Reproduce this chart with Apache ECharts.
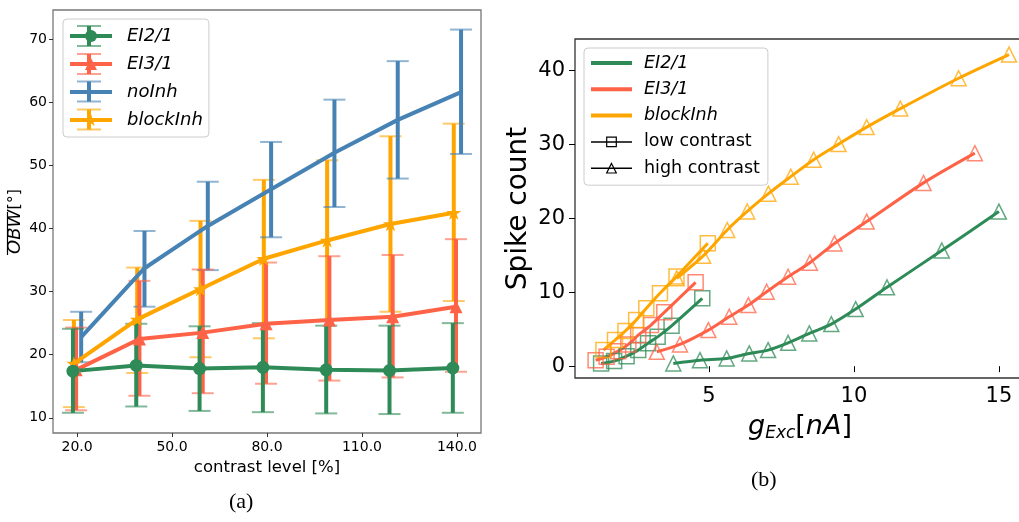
<!DOCTYPE html>
<html>
<head>
<meta charset="utf-8">
<script src="https://cdn.jsdelivr.net/npm/echarts@6/dist/echarts.min.js"></script>
<style>
  html, body { margin: 0; padding: 0; background: #fff; }
  #chart { width: 1019px; height: 522px; }
</style>
</head>
<body>
<div id="chart"></div>
<script>
// ---- panel (a): OBW vs contrast level ----
const contrastTicks = [20, 50, 80, 110, 140]
// x positions as drawn (each series is nudged a little sideways)
const ei2X = [18.7, 38.7, 58.7, 78.7, 98.7, 118.7, 138.7]
const ei3X = [19.7, 39.7, 59.7, 79.7, 99.7, 119.7, 139.7]
const noInhX = [21.3, 41.3, 61.3, 81.3, 101.3, 121.3, 141.3]
const blockX = [19.0, 39.0, 59.0, 79.0, 99.0, 119.0, 139.0]

const ei2Mean = [17.4, 18.3, 17.8, 18.0, 17.6, 17.5, 17.9]
const ei2Lo = [10.8, 11.8, 11.1, 10.9, 10.7, 10.6, 10.8]
const ei2Hi = [24.1, 24.9, 24.5, 25.0, 24.6, 24.6, 25.0]

const ei3Mean = [17.6, 22.5, 23.5, 24.9, 25.5, 26.0, 27.6]
const ei3Lo = [11.2, 13.5, 13.9, 15.4, 15.9, 16.4, 17.3]
const ei3Hi = [24.3, 31.7, 33.5, 34.6, 35.6, 35.8, 38.3]

const noInhMean = [22.8, 33.7, 40.4, 46.2, 52.0, 57.2, 61.6]
const noInhLo = [18.8, 27.6, 33.4, 38.6, 43.4, 47.9, 51.8]
const noInhHi = [26.8, 39.6, 47.4, 53.7, 60.4, 66.5, 71.5]

const blockMean = [18.6, 25.6, 30.4, 35.2, 38.1, 40.7, 42.5]
const blockLo = [11.7, 17.1, 19.6, 22.6, 25.5, 26.8, 28.5]
const blockHi = [25.5, 33.8, 41.2, 47.7, 50.8, 54.6, 56.6]

const obwTicks = [10, 20, 30, 40, 50, 60, 70]

// ---- panel (b): spike count vs g_Exc ----
const ei2LowX = [1.28, 1.73, 2.16, 2.56, 2.90, 3.23, 3.71, 4.77]
const ei2LowY = [0.37, 0.68, 1.35, 2.17, 3.11, 3.96, 5.45, 9.16]
const ei3LowX = [1.09, 1.47, 1.87, 2.22, 2.56, 3.00, 3.46, 4.54]
const ei3LowY = [0.81, 1.26, 2.03, 2.94, 4.19, 5.55, 7.27, 11.33]
const blockLowX = [1.36, 1.76, 2.12, 2.49, 2.84, 3.31, 3.88, 4.96]
const blockLowY = [2.17, 3.52, 4.76, 6.22, 7.81, 9.84, 12.1, 16.6]

const ei2HighX = [3.77, 4.69, 5.61, 6.39, 7.04, 7.73, 8.46, 9.22, 10.06, 11.14, 13.03, 15.0]
const ei2HighY = [0.37, 0.81, 1.04, 1.72, 2.17, 3.15, 4.42, 5.68, 7.71, 10.65, 15.63, 20.88]
const ei3HighX = [3.20, 4.00, 4.98, 5.70, 6.36, 6.99, 7.73, 8.48, 9.33, 10.44, 12.40, 14.17]
const ei3HighY = [1.94, 2.94, 4.87, 6.67, 8.25, 10.05, 12.08, 13.98, 16.58, 19.53, 24.76, 28.78]
const blockHighX = [3.89, 4.80, 5.63, 6.32, 7.05, 7.82, 8.61, 9.47, 10.44, 11.60, 13.61, 15.35]
const blockHighY = [11.87, 14.9, 18.4, 20.9, 23.3, 25.6, 27.9, 30.0, 32.3, 34.8, 38.9, 42.1]

const gExcTicks = [5, 10, 15]
const spikeTicks = [0, 10, 20, 30, 40]

const green = '#2e8b57'
const red = '#ff6347'
const blue = '#4682b4'
const orange = '#ffa500'
const font = 'DejaVu Sans'
const star = 'path://M0,-1L0.2245,-0.309L0.951,-0.309L0.363,0.118L0.588,0.809L0,0.382L-0.588,0.809L-0.363,0.118L-0.951,-0.309L-0.2245,-0.309Z'

const pairs = (xs, ys) => xs.map((x, i) => [x, ys[i]])
const triples = (xs, lo, hi) => xs.map((x, i) => [x, lo[i], hi[i]])

// vertical error bar with caps
function errBar (color) {
  return function (params, api) {
    const x = api.value(0)
    const p1 = api.coord([x, api.value(1)])
    const p2 = api.coord([x, api.value(2)])
    const hw = 11
    return {
      type: 'group',
      children: [
        { type: 'line', shape: { x1: p1[0], y1: p1[1], x2: p2[0], y2: p2[1] }, style: { stroke: color, lineWidth: 4 } },
        { type: 'line', shape: { x1: p1[0] - hw, y1: p1[1], x2: p1[0] + hw, y2: p1[1] }, style: { stroke: color, lineWidth: 2, opacity: 0.6 } },
        { type: 'line', shape: { x1: p2[0] - hw, y1: p2[1], x2: p2[0] + hw, y2: p2[1] }, style: { stroke: color, lineWidth: 2, opacity: 0.6 } }
      ]
    }
  }
}

function errSeries (name, data, color) {
  return {
    name,
    type: 'custom',
    xAxisIndex: 0,
    yAxisIndex: 0,
    data,
    encode: { x: 0, y: [1, 2] },
    renderItem: errBar(color),
    silent: true,
    z: 2
  }
}

function meanSeries (name, data, color, symbol, size) {
  return {
    name,
    type: 'line',
    xAxisIndex: 0,
    yAxisIndex: 0,
    data,
    symbol,
    symbolSize: size,
    symbolKeepAspect: true,
    lineStyle: { color, width: 4 },
    itemStyle: { color: symbol === 'none' ? 'transparent' : color },
    emphasis: { disabled: true },
    z: 4
  }
}

function curve (name, data, color, symbol) {
  return {
    name,
    type: 'line',
    xAxisIndex: 1,
    yAxisIndex: 1,
    data,
    smooth: 0.3,
    symbol,
    symbolSize: 15,
    lineStyle: { color, width: 3 },
    itemStyle: { color: 'transparent', borderColor: color, borderWidth: 1.5, opacity: 0.75 },
    emphasis: { disabled: true },
    z: 3
  }
}

// legend-only entries for panel (b)
function keySeries (name, color, symbol) {
  return {
    name,
    type: 'line',
    xAxisIndex: 1,
    yAxisIndex: 1,
    data: [],
    symbol,
    lineStyle: { color, width: symbol === 'none' ? 4 : 1.5 },
    itemStyle: { color: 'transparent', borderColor: symbol === 'none' ? 'transparent' : color, borderWidth: 1.2 }
  }
}

// error-bar glyphs drawn over the panel (a) legend handles
function legendBar (cx, cy, color) {
  return [
    { type: 'line', z: 10, shape: { x1: cx, y1: cy - 10, x2: cx, y2: cy + 10 }, style: { stroke: color, lineWidth: 4 } },
    { type: 'line', z: 10, shape: { x1: cx - 12, y1: cy - 10, x2: cx + 12, y2: cy - 10 }, style: { stroke: color, lineWidth: 2, opacity: 0.6 } },
    { type: 'line', z: 10, shape: { x1: cx - 12, y1: cy + 10, x2: cx + 12, y2: cy + 10 }, style: { stroke: color, lineWidth: 2, opacity: 0.6 } }
  ]
}

const rightNames = { bEI2: 'EI2/1', bEI3: 'EI3/1', bBlock: 'blockInh', bLow: 'low contrast', bHigh: 'high contrast' }

const axisText = { color: '#000', fontFamily: font }

const chart = echarts.init(document.getElementById('chart'))
chart.setOption({
  animation: false,
  backgroundColor: '#fff',
  grid: [
    { left: 53, top: 10, width: 428, height: 423, outerBoundsMode: 'none', containLabel: false, show: true, borderColor: '#777', borderWidth: 1.3, backgroundColor: 'transparent' },
    { left: 575, top: 39, width: 450, height: 339, outerBoundsMode: 'none', containLabel: false, show: true, borderColor: '#333', borderWidth: 1.3, backgroundColor: 'transparent' }
  ],
  xAxis: [
    {
      type: 'value',
      gridIndex: 0,
      min: 12.4,
      max: 147.6,
      name: 'contrast level [%]',
      nameLocation: 'middle',
      nameGap: 21,
      nameTextStyle: { ...axisText, fontSize: 16.5 },
      axisLine: { show: false },
      splitLine: { show: false },
      axisTick: { show: true, length: 4, customValues: contrastTicks, lineStyle: { color: '#333' } },
      axisLabel: { ...axisText, fontSize: 14, margin: 7, customValues: contrastTicks, formatter: v => v.toFixed(1) }
    },
    {
      type: 'value',
      gridIndex: 1,
      min: 0.38,
      max: 15.9,
      name: '{i|g}{s|Exc}{r|[}{i|nA}{r|]}',
      nameLocation: 'middle',
      nameGap: 33,
      nameTextStyle: {
        ...axisText,
        fontSize: 27,
        rich: {
          i: { fontSize: 27, fontStyle: 'italic', fontFamily: font, color: '#000' },
          r: { fontSize: 27, fontFamily: font, color: '#000' },
          s: { fontSize: 17, fontStyle: 'italic', fontFamily: font, color: '#000', padding: [14, 0, 0, 0] }
        }
      },
      axisLine: { show: false },
      splitLine: { show: false },
      axisTick: { show: true, length: 6, customValues: gExcTicks, lineStyle: { color: '#000' } },
      axisLabel: { ...axisText, fontSize: 21, margin: 8, customValues: gExcTicks }
    }
  ],
  yAxis: [
    {
      type: 'value',
      gridIndex: 0,
      min: 7.6,
      max: 74.6,
      name: '{i|OBW}[°]',
      nameLocation: 'middle',
      nameGap: 29,
      nameRotate: 90,
      nameTextStyle: {
        ...axisText,
        fontSize: 16,
        rich: { i: { fontSize: 18, fontStyle: 'italic', fontFamily: font, color: '#000' } }
      },
      axisLine: { show: false },
      splitLine: { show: false },
      axisTick: { show: true, length: 4, customValues: obwTicks, lineStyle: { color: '#333' } },
      axisLabel: { ...axisText, fontSize: 14, margin: 6, customValues: obwTicks }
    },
    {
      type: 'value',
      gridIndex: 1,
      min: -1.6,
      max: 44.2,
      name: 'Spike count',
      nameLocation: 'middle',
      nameGap: 42,
      nameRotate: 90,
      nameTextStyle: { ...axisText, fontSize: 28 },
      axisLine: { show: false },
      splitLine: { show: false },
      axisTick: { show: true, length: 6, customValues: spikeTicks, lineStyle: { color: '#000' } },
      axisLabel: { ...axisText, fontSize: 21, margin: 10, customValues: spikeTicks }
    }
  ],
  legend: [
    {
      left: 63,
      top: 19,
      orient: 'vertical',
      selectedMode: false,
      padding: [7, 6, 7, 5],
      itemGap: 8,
      itemWidth: 42,
      itemHeight: 15,
      backgroundColor: 'rgba(255,255,255,0.85)',
      borderColor: '#ccc',
      borderWidth: 1,
      borderRadius: 4,
      lineStyle: { width: 4 },
      textStyle: { fontFamily: font, fontSize: 18, fontStyle: 'italic', color: '#000', lineHeight: 20, padding: [0, 0, 0, 10] },
      data: ['EI2/1', 'EI3/1', 'noInh', 'blockInh']
    },
    {
      left: 584,
      top: 48,
      orient: 'vertical',
      selectedMode: false,
      padding: [5, 8, 7, 5],
      itemGap: 6.3,
      itemWidth: 41,
      itemHeight: 12,
      backgroundColor: 'rgba(255,255,255,0.85)',
      borderColor: '#ccc',
      borderWidth: 1,
      borderRadius: 4,
      formatter: name => rightNames[name],
      textStyle: { fontFamily: font, fontSize: 17.5, color: '#000', lineHeight: 20, padding: [0, 0, 0, 7] },
      data: [
        { name: 'bEI2', textStyle: { fontStyle: 'italic' }, lineStyle: { width: 4 } },
        { name: 'bEI3', textStyle: { fontStyle: 'italic' }, lineStyle: { width: 4 } },
        { name: 'bBlock', textStyle: { fontStyle: 'italic' }, lineStyle: { width: 4 } },
        { name: 'bLow', lineStyle: { width: 1.5 }, itemStyle: { borderWidth: 1.2 } },
        { name: 'bHigh', lineStyle: { width: 1.5 }, itemStyle: { borderWidth: 1.2 } }
      ]
    }
  ],
  graphic: [
    // overline of OBW
    { type: 'line', z: 10, shape: { x1: 7.5, y1: 212, x2: 7.5, y2: 255 }, style: { stroke: '#000', lineWidth: 1.2 } },
    ...legendBar(89, 36, green),
    ...legendBar(89, 64, red),
    ...legendBar(89, 91.5, blue),
    ...legendBar(89, 119.5, orange),
    { type: 'text', left: 229, top: 491, style: { text: '(a)', font: '22px "Liberation Serif"', fill: '#000' } },
    { type: 'text', left: 751, top: 469, style: { text: '(b)', font: '22px "Liberation Serif"', fill: '#000' } }
  ],
  series: [
    errSeries('errBlock', triples(blockX, blockLo, blockHi), orange),
    errSeries('errNoInh', triples(noInhX, noInhLo, noInhHi), blue),
    errSeries('errEI3', triples(ei3X, ei3Lo, ei3Hi), red),
    errSeries('errEI2', triples(ei2X, ei2Lo, ei2Hi), green),
    meanSeries('blockInh', pairs(blockX, blockMean), orange, star, 15),
    meanSeries('noInh', pairs(noInhX, noInhMean), blue, 'none', 0),
    meanSeries('EI3/1', pairs(ei3X, ei3Mean), red, 'triangle', 13),
    meanSeries('EI2/1', pairs(ei2X, ei2Mean), green, 'circle', 13),

    curve('ei2Low', pairs(ei2LowX, ei2LowY), green, 'rect'),
    curve('ei2High', pairs(ei2HighX, ei2HighY), green, 'triangle'),
    curve('ei3Low', pairs(ei3LowX, ei3LowY), red, 'rect'),
    curve('ei3High', pairs(ei3HighX, ei3HighY), red, 'triangle'),
    curve('blockLow', pairs(blockLowX, blockLowY), orange, 'rect'),
    curve('blockHigh', pairs(blockHighX, blockHighY), orange, 'triangle'),

    keySeries('bEI2', green, 'none'),
    keySeries('bEI3', red, 'none'),
    keySeries('bBlock', orange, 'none'),
    keySeries('bLow', '#000', 'rect'),
    keySeries('bHigh', '#000', 'triangle')
  ]
})
</script>
</body>
</html>
